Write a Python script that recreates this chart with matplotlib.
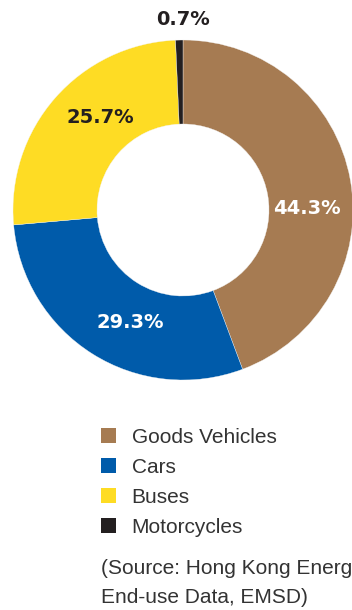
import matplotlib
matplotlib.use("Agg")
import matplotlib.pyplot as plt
import numpy as np

categories = ["Goods Vehicles", "Cars", "Buses", "Motorcycles"]
shares = [44.3, 29.3, 25.7, 0.7]
colors = ["#A67B52", "#005BAA", "#FEDC24", "#231F20"]
label_colors = ["white", "white", "#231F20", "#231F20"]
source_text = "(Source: Hong Kong Energy\nEnd-use Data, EMSD)"

W, H = 352, 610
fig = plt.figure(figsize=(W / 100, H / 100), dpi=100)

cx, cy, R = 183, 210, 170
ax = fig.add_axes([(cx - R) / W, (H - cy - R) / H, 2 * R / W, 2 * R / H])

wedges, _ = ax.pie(shares, startangle=90, counterclock=False, radius=1,
                   colors=colors,
                   wedgeprops=dict(width=84 / 170, edgecolor="#f4f4f4", linewidth=0.25))
ax.set_xlim(-1, 1)
ax.set_ylim(-1, 1)
ax.axis("off")
for w in wedges:
    w.set_clip_on(False)

# label placement (radius, angle in degrees) -- layout only
label_pos = [(0.73, 0.5), (0.73, -115), (0.73, 132), (1.12, 90)]
for val, (r, a), c in zip(shares, label_pos, label_colors):
    t = np.deg2rad(a)
    ax.text(r * np.cos(t), r * np.sin(t), f"{val:.1f}%", ha="center", va="center",
            fontsize=14, fontweight="bold", family="DejaVu Sans", color=c,
            clip_on=False)

leg = fig.legend(wedges, categories, loc="upper left",
                 bbox_to_anchor=(101 / W, 1 - 428 / H), frameon=False,
                 prop=dict(family="Liberation Sans", size=15),
                 handlelength=0.72, handleheight=0.72, handletextpad=0.75,
                 labelspacing=0.53, borderpad=0, borderaxespad=0)
for t in leg.get_texts():
    t.set_color("#333333")
for h in leg.legend_handles:
    h.set_edgecolor("none")

fig.text(101 / W, 1 - 559 / H, source_text, ha="left", va="top",
         family="Liberation Sans", fontsize=15, color="#333333", linespacing=1.65)

fig.savefig("out.png", dpi=100)
